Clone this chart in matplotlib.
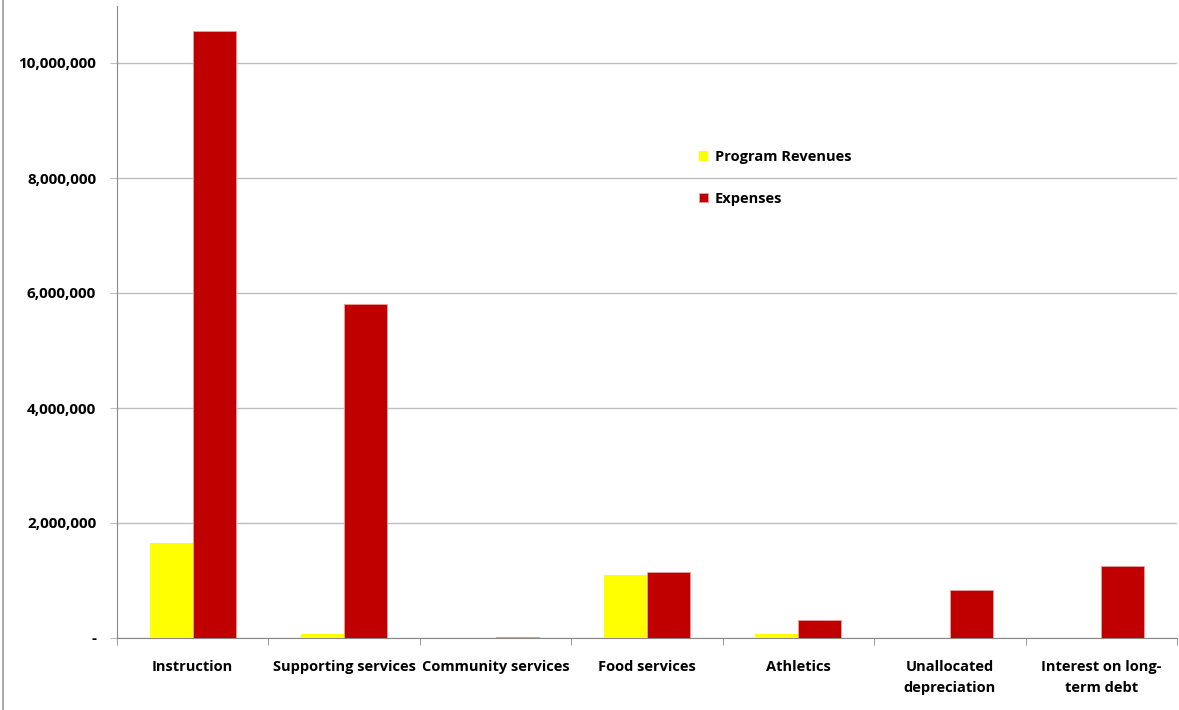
import matplotlib
matplotlib.use("Agg")
import matplotlib.pyplot as plt
import numpy as np
from matplotlib.ticker import FuncFormatter, FixedLocator
from matplotlib.lines import Line2D

categories = ["Instruction", "Supporting services", "Community services", "Food services",
              "Athletics", "Unallocated\ndepreciation", "Interest on long-\nterm debt"]
program_revenues = [1650000, 70000, 5000, 1100000, 70000, 0, 0]
expenses = [10560000, 5810000, 20000, 1150000, 310000, 835000, 1250000]
series_names = ["Program Revenues", "Expenses"]
colors = ["#FFFF00", "#C00000"]

plt.rcParams['font.family'] = ['Open Sans', 'DejaVu Sans']
plt.rcParams['font.weight'] = 'bold'
FS = 10.5

fig = plt.figure(figsize=(11.79, 7.10), dpi=100)
ax = fig.add_axes([117/1179, 72/710, 1060/1179, 632.5/710])

x = np.arange(len(categories))
w = 43/151.4
ax.bar(x - w/2, program_revenues, width=w, color=colors[0], label=series_names[0], zorder=3)
ax.bar(x + w/2, expenses, width=w, color=colors[1], edgecolor="#E8A0A0", linewidth=0.6,
       label=series_names[1], zorder=3)

ax.set_xlim(-0.5, len(categories) - 0.5)
ax.set_ylim(0, 11000000)
ax.yaxis.set_major_locator(FixedLocator(np.arange(0, 10000001, 2000000)))
ax.yaxis.set_major_formatter(FuncFormatter(lambda v, p: "-" if v == 0 else f"{int(v):,}"))
ax.grid(axis='y', color="#BFBFBF", linewidth=1, zorder=0)
ax.tick_params(axis='y', length=5, color="#BFBFBF", pad=10)
for t in ax.get_yticklabels():
    t.set_fontsize(11)
    t.set_fontweight('bold')

ax.set_xticks(x)
ax.set_xticklabels(categories, fontsize=FS, fontweight='bold', linespacing=1.65)
ax.set_xticks(np.arange(-0.5, len(categories)), minor=True)
ax.tick_params(axis='x', which='major', length=0, pad=16)
ax.tick_params(axis='x', which='minor', length=5, color="#888888")

for s in ['top', 'right']:
    ax.spines[s].set_visible(False)
ax.spines['left'].set_color("#888888")
ax.spines['bottom'].set_color("#888888")

leg = ax.legend(loc='upper left', bbox_to_anchor=(582/1060, (638-150)/632.5), frameon=False,
                prop={'size': FS, 'weight': 'bold'}, handlelength=0.65, handleheight=0.65,
                handletextpad=0.45, labelspacing=1.9, borderaxespad=0, borderpad=0)

fig.add_artist(Line2D([3/1179, 3/1179], [0, 1], color="#999999", linewidth=1.2, transform=fig.transFigure))

fig.savefig("out.png", dpi=100)
